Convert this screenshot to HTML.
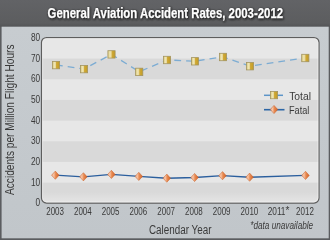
<!DOCTYPE html><html><head><meta charset="utf-8"><style>html,body{margin:0;padding:0;width:330px;height:240px;overflow:hidden;background:#5b5d60}svg{display:block;will-change:transform}</style></head><body><svg width="330" height="240" viewBox="0 0 330 240">
<defs>
<linearGradient id="gold" x1="0" y1="0" x2="1" y2="0">
<stop offset="0" stop-color="#d9c97c"/><stop offset="0.3" stop-color="#efe5b4"/><stop offset="0.47" stop-color="#e6d594"/><stop offset="0.57" stop-color="#cfa936"/><stop offset="1" stop-color="#c29b26"/></linearGradient>
<linearGradient id="orange" x1="0" y1="0" x2="1" y2="0">
<stop offset="0" stop-color="#eeaa84"/><stop offset="0.3" stop-color="#f7c4a6"/><stop offset="0.55" stop-color="#e98a50"/><stop offset="1" stop-color="#d2642c"/></linearGradient>
<linearGradient id="hdr" x1="0" y1="0" x2="0" y2="1">
<stop offset="0" stop-color="#626366"/><stop offset="0.85" stop-color="#5c5d5f"/><stop offset="1" stop-color="#535456"/></linearGradient>
<linearGradient id="body" x1="0" y1="0" x2="0" y2="1">
<stop offset="0" stop-color="#c7ccd0"/><stop offset="1" stop-color="#c1c6ca"/></linearGradient>
<linearGradient id="bot" x1="0" y1="0" x2="0" y2="1"><stop offset="0" stop-color="#e8e8e8" stop-opacity="0"/><stop offset="1" stop-color="#e8e8e8" stop-opacity="0.85"/></linearGradient>
<filter id="sh" x="-10%" y="-50%" width="120%" height="200%"><feGaussianBlur stdDeviation="0.9"/></filter>
</defs>
<rect x="0" y="0" width="330" height="27" fill="url(#hdr)"/>
<rect x="0" y="26.7" width="330" height="213.3" fill="#5b5d60"/>
<rect x="1.6" y="26.7" width="327.1" height="211.6" fill="url(#body)"/>
<rect x="41.5" y="37.5" width="277.5" height="165.5" rx="5" fill="#e7e7e7"/>
<clipPath id="pc"><rect x="41.5" y="37.5" width="277.5" height="165.5" rx="5"/></clipPath>
<g clip-path="url(#pc)">
<rect x="41" y="58.61" width="279" height="20.67" fill="#d9d9d9"/>
<rect x="41" y="99.95" width="279" height="20.67" fill="#d9d9d9"/>
<rect x="41" y="141.29" width="279" height="20.67" fill="#d9d9d9"/>
<rect x="41" y="182.63" width="279" height="20.67" fill="#d9d9d9"/>
<rect x="41" y="192" width="279" height="11.5" fill="url(#bot)"/>
</g>
<rect x="41.5" y="37.5" width="277.5" height="165.5" rx="5" fill="none" stroke="#5e5e5e" stroke-width="1.25"/>
<rect x="42.6" y="38.6" width="275.3" height="163.3" rx="4" fill="none" stroke="#f2f2f2" stroke-opacity="0.6" stroke-width="1"/>
<text x="48.2" y="19.1" font-family="Liberation Sans" font-weight="bold" font-size="14" fill="#1a1a1a" stroke="#1a1a1a" stroke-width="0.8" filter="url(#sh)" textLength="235.5" lengthAdjust="spacingAndGlyphs">General Aviation Accident Rates, 2003-2012</text>
<text x="47.6" y="18.3" font-family="Liberation Sans" font-weight="bold" font-size="14" fill="#ffffff" stroke="#ffffff" stroke-width="0.25" textLength="235.5" lengthAdjust="spacingAndGlyphs">General Aviation Accident Rates, 2003-2012</text>
<text x="35.60" y="206.20" font-family="Liberation Sans" font-size="10" fill="#3a3a3a" textLength="4.6" lengthAdjust="spacingAndGlyphs">0</text>
<text x="31.00" y="185.53" font-family="Liberation Sans" font-size="10" fill="#3a3a3a" textLength="9.2" lengthAdjust="spacingAndGlyphs">10</text>
<text x="31.00" y="164.86" font-family="Liberation Sans" font-size="10" fill="#3a3a3a" textLength="9.2" lengthAdjust="spacingAndGlyphs">20</text>
<text x="31.00" y="144.19" font-family="Liberation Sans" font-size="10" fill="#3a3a3a" textLength="9.2" lengthAdjust="spacingAndGlyphs">30</text>
<text x="31.00" y="123.52" font-family="Liberation Sans" font-size="10" fill="#3a3a3a" textLength="9.2" lengthAdjust="spacingAndGlyphs">40</text>
<text x="31.00" y="102.85" font-family="Liberation Sans" font-size="10" fill="#3a3a3a" textLength="9.2" lengthAdjust="spacingAndGlyphs">50</text>
<text x="31.00" y="82.18" font-family="Liberation Sans" font-size="10" fill="#3a3a3a" textLength="9.2" lengthAdjust="spacingAndGlyphs">60</text>
<text x="31.00" y="61.51" font-family="Liberation Sans" font-size="10" fill="#3a3a3a" textLength="9.2" lengthAdjust="spacingAndGlyphs">70</text>
<text x="31.00" y="40.84" font-family="Liberation Sans" font-size="10" fill="#3a3a3a" textLength="9.2" lengthAdjust="spacingAndGlyphs">80</text>
<text x="46.20" y="215" font-family="Liberation Sans" font-size="10" fill="#3a3a3a" textLength="17.8" lengthAdjust="spacingAndGlyphs">2003</text>
<text x="73.96" y="215" font-family="Liberation Sans" font-size="10" fill="#3a3a3a" textLength="17.8" lengthAdjust="spacingAndGlyphs">2004</text>
<text x="101.72" y="215" font-family="Liberation Sans" font-size="10" fill="#3a3a3a" textLength="17.8" lengthAdjust="spacingAndGlyphs">2005</text>
<text x="129.48" y="215" font-family="Liberation Sans" font-size="10" fill="#3a3a3a" textLength="17.8" lengthAdjust="spacingAndGlyphs">2006</text>
<text x="157.24" y="215" font-family="Liberation Sans" font-size="10" fill="#3a3a3a" textLength="17.8" lengthAdjust="spacingAndGlyphs">2007</text>
<text x="185.00" y="215" font-family="Liberation Sans" font-size="10" fill="#3a3a3a" textLength="17.8" lengthAdjust="spacingAndGlyphs">2008</text>
<text x="212.76" y="215" font-family="Liberation Sans" font-size="10" fill="#3a3a3a" textLength="17.8" lengthAdjust="spacingAndGlyphs">2009</text>
<text x="240.52" y="215" font-family="Liberation Sans" font-size="10" fill="#3a3a3a" textLength="17.8" lengthAdjust="spacingAndGlyphs">2010</text>
<text x="267.68" y="215" font-family="Liberation Sans" font-size="10" fill="#3a3a3a" textLength="17.8" lengthAdjust="spacingAndGlyphs">2011</text>
<text x="285.38" y="213.6" font-family="Liberation Sans" font-size="10" fill="#3a3a3a">*</text>
<text x="296.04" y="215" font-family="Liberation Sans" font-size="10" fill="#3a3a3a" textLength="17.8" lengthAdjust="spacingAndGlyphs">2012</text>
<text transform="translate(13.5,195) rotate(-90)" x="0" y="0" font-family="Liberation Sans" font-size="12" fill="#3a3a3a" textLength="150.5" lengthAdjust="spacingAndGlyphs">Accidents per Million Flight Hours</text>
<text x="149" y="234" font-family="Liberation Sans" font-size="12" fill="#3a3a3a" textLength="62.5" lengthAdjust="spacingAndGlyphs">Calendar Year</text>
<text x="250.2" y="228.7" font-family="Liberation Sans" font-style="italic" font-size="10" fill="#3a3a3a" textLength="63" lengthAdjust="spacingAndGlyphs">*data unavailable</text>
<polyline points="56.00,65.00 84.00,69.00 111.50,54.30 139.20,71.80 167.00,59.90 195.00,61.20 223.00,56.90 250.00,66.10 305.30,57.90" fill="none" stroke="#7cacd3" stroke-width="1.3" stroke-dasharray="6.8,5"/>
<polyline points="55.30,175.20 83.40,176.80 111.40,174.40 138.80,176.40 166.80,178.20 194.60,177.50 222.50,175.70 249.60,177.20 305.50,175.40" fill="none" stroke="#2b5f9e" stroke-width="1.35"/>
<rect x="52.40" y="61.40" width="7.2" height="7.4" fill="url(#gold)" stroke="#a39460" stroke-width="0.8"/>
<rect x="80.40" y="65.40" width="7.2" height="7.4" fill="url(#gold)" stroke="#a39460" stroke-width="0.8"/>
<rect x="107.90" y="50.70" width="7.2" height="7.4" fill="url(#gold)" stroke="#a39460" stroke-width="0.8"/>
<rect x="135.60" y="68.20" width="7.2" height="7.4" fill="url(#gold)" stroke="#a39460" stroke-width="0.8"/>
<rect x="163.40" y="56.30" width="7.2" height="7.4" fill="url(#gold)" stroke="#a39460" stroke-width="0.8"/>
<rect x="191.40" y="57.60" width="7.2" height="7.4" fill="url(#gold)" stroke="#a39460" stroke-width="0.8"/>
<rect x="219.40" y="53.30" width="7.2" height="7.4" fill="url(#gold)" stroke="#a39460" stroke-width="0.8"/>
<rect x="246.40" y="62.50" width="7.2" height="7.4" fill="url(#gold)" stroke="#a39460" stroke-width="0.8"/>
<rect x="301.70" y="54.30" width="7.2" height="7.4" fill="url(#gold)" stroke="#a39460" stroke-width="0.8"/>
<path d="M55.30,171.10 L59.05,175.20 L55.30,179.30 L51.55,175.20 Z" fill="url(#orange)" stroke="#c45e28" stroke-width="0.5"/>
<path d="M83.40,172.70 L87.15,176.80 L83.40,180.90 L79.65,176.80 Z" fill="url(#orange)" stroke="#c45e28" stroke-width="0.5"/>
<path d="M111.40,170.30 L115.15,174.40 L111.40,178.50 L107.65,174.40 Z" fill="url(#orange)" stroke="#c45e28" stroke-width="0.5"/>
<path d="M138.80,172.30 L142.55,176.40 L138.80,180.50 L135.05,176.40 Z" fill="url(#orange)" stroke="#c45e28" stroke-width="0.5"/>
<path d="M166.80,174.10 L170.55,178.20 L166.80,182.30 L163.05,178.20 Z" fill="url(#orange)" stroke="#c45e28" stroke-width="0.5"/>
<path d="M194.60,173.40 L198.35,177.50 L194.60,181.60 L190.85,177.50 Z" fill="url(#orange)" stroke="#c45e28" stroke-width="0.5"/>
<path d="M222.50,171.60 L226.25,175.70 L222.50,179.80 L218.75,175.70 Z" fill="url(#orange)" stroke="#c45e28" stroke-width="0.5"/>
<path d="M249.60,173.10 L253.35,177.20 L249.60,181.30 L245.85,177.20 Z" fill="url(#orange)" stroke="#c45e28" stroke-width="0.5"/>
<path d="M305.50,171.30 L309.25,175.40 L305.50,179.50 L301.75,175.40 Z" fill="url(#orange)" stroke="#c45e28" stroke-width="0.5"/>
<line x1="264" y1="95.3" x2="283" y2="95.3" stroke="#5d95c8" stroke-width="1.5"/>
<rect x="270.40" y="91.40" width="7.2" height="7.4" fill="url(#gold)" stroke="#a39460" stroke-width="0.8"/>
<line x1="264" y1="109.7" x2="284.5" y2="109.7" stroke="#2c66a6" stroke-width="1.6"/>
<path d="M274.00,105.40 L277.75,109.50 L274.00,113.60 L270.25,109.50 Z" fill="url(#orange)" stroke="#c45e28" stroke-width="0.5"/>
<text x="289.2" y="99.5" font-family="Liberation Sans" font-size="10.4" fill="#3a3a3a" textLength="21.8" lengthAdjust="spacingAndGlyphs">Total</text>
<text x="289" y="113.8" font-family="Liberation Sans" font-size="10.4" fill="#3a3a3a" textLength="20.3" lengthAdjust="spacingAndGlyphs">Fatal</text>
</svg></body></html>
